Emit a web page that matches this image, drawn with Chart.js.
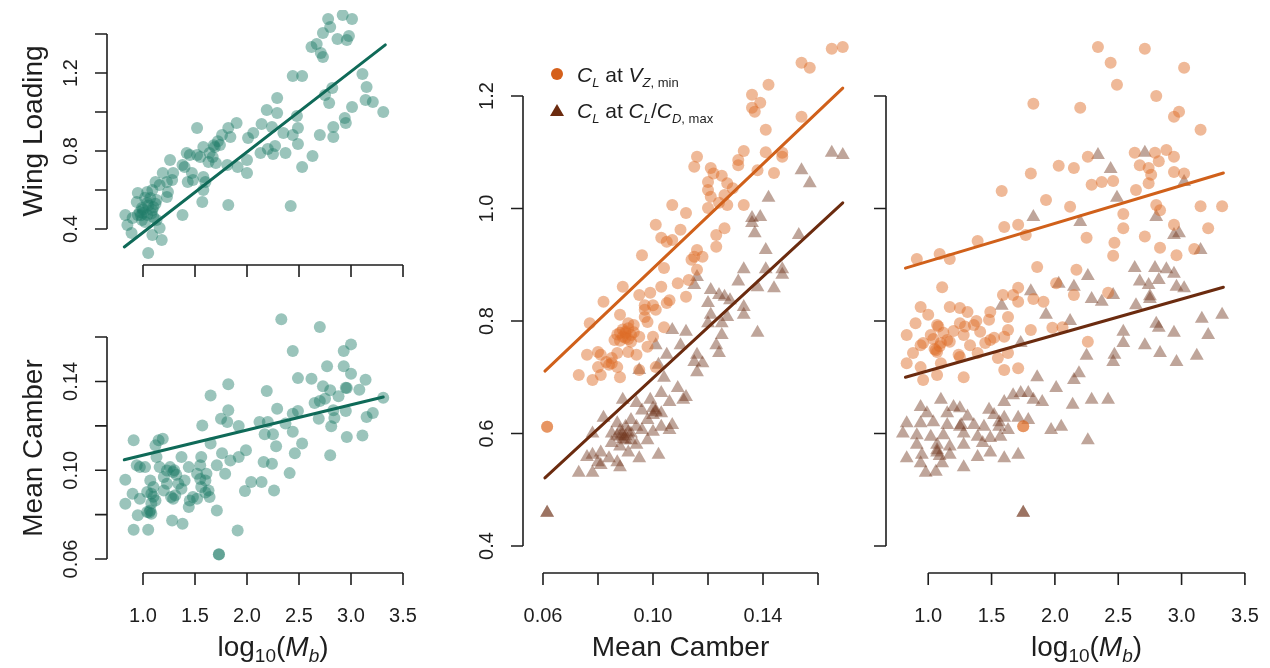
<!DOCTYPE html>
<html lang="en">
  <head>
    <meta charset="UTF-8" />
    <title>Lift coefficient, camber and body mass</title>
    <script src="https://cdn.jsdelivr.net/npm/chart.js"></script>
    <style>
      body { margin: 0; background: #fff; }
      #wrap { position: relative; width: 1270px; height: 668px; }
      #wrap canvas { position: absolute; left: 0; top: 0; }
    </style>
  </head>
  <body>
    <div id="wrap">
      <canvas id="wl" width="1270" height="668"></canvas>
      <canvas id="mc" width="1270" height="668"></canvas>
      <canvas id="clc" width="1270" height="668"></canvas>
      <canvas id="clm" width="1270" height="668"></canvas>
    </div>

    <script>
      // top-left: wing loading vs log10(Mb)
      const massWL = [2.92, 3.01, 2.78, 2.80, 2.73, 2.87, 2.96, 2.98, 2.62, 2.67, 2.71, 2.73, 2.44, 2.53, 3.11, 3.15, 3.14, 3.21, 3.31, 3.01, 2.94, 2.95, 2.83, 2.83, 2.70, 2.75, 2.79, 2.82, 2.63, 2.53, 2.42, 2.29, 2.19, 2.29, 2.14, 2.24, 2.48, 2.49, 2.44, 2.49, 2.35, 2.37, 2.27, 2.20, 2.25, 2.13, 2.06, 2.01, 1.90, 2.00, 2.00, 1.91, 1.82, 1.76, 1.84, 1.74, 1.69, 1.81, 1.82, 1.52, 1.58, 1.64, 1.55, 1.52, 1.67, 1.63, 1.70, 1.42, 1.45, 1.38, 1.40, 1.47, 1.48, 1.43, 1.58, 1.60, 1.58, 1.57, 1.38, 1.26, 1.29, 1.28, 1.19, 1.23, 1.16, 1.24, 1.23, 1.12, 1.09, 1.04, 0.95, 1.07, 1.13, 1.04, 0.94, 0.99, 1.09, 1.04, 0.95, 0.90, 0.99, 1.10, 1.13, 0.83, 0.85, 0.89, 1.09, 1.16, 1.18, 1.05, 1.00, 1.02, 0.97, 1.10, 1.00, 1.05, 0.98, 1.08, 1.12, 1.02, 1.68, 1.72];
      const wingLoading = [1.497, 1.477, 1.477, 1.436, 1.405, 1.374, 1.369, 1.39, 1.333, 1.349, 1.303, 1.282, 1.185, 1.185, 1.195, 1.128, 1.062, 1.051, 1.0, 1.026, 0.969, 0.944, 0.923, 0.872, 0.882, 1.087, 1.046, 1.123, 0.774, 0.718, 0.518, 1.072, 1.01, 0.995, 0.938, 0.923, 0.979, 0.918, 0.882, 0.836, 0.892, 0.79, 0.826, 0.81, 0.785, 0.79, 0.892, 0.867, 0.944, 0.754, 0.687, 0.718, 0.918, 0.882, 0.872, 0.831, 0.82, 0.728, 0.523, 0.918, 0.82, 0.79, 0.769, 0.779, 0.769, 0.744, 0.738, 0.79, 0.779, 0.728, 0.718, 0.687, 0.651, 0.641, 0.667, 0.641, 0.60, 0.538, 0.472, 0.754, 0.687, 0.651, 0.687, 0.641, 0.626, 0.59, 0.564, 0.641, 0.60, 0.59, 0.585, 0.559, 0.549, 0.533, 0.538, 0.508, 0.497, 0.472, 0.472, 0.456, 0.446, 0.462, 0.446, 0.472, 0.42, 0.379, 0.369, 0.405, 0.344, 0.277, 0.482, 0.436, 0.487, 0.513, 0.50, 0.52, 0.47, 0.48, 0.53, 0.56, 0.83, 0.85];
      const fitMassWL = [0.82, 3.33];
      const fitWL = [0.308, 1.344];

      // bottom-left: mean camber vs log10(Mb)
      const massMC = [2.33, 2.70, 2.44, 3.00, 2.93, 2.77, 2.93, 3.00, 2.49, 2.62, 3.14, 2.73, 2.95, 2.80, 3.08, 2.88, 2.75, 2.65, 2.70, 3.31, 2.95, 2.83, 2.29, 2.49, 2.44, 2.69, 2.84, 3.21, 3.15, 2.37, 2.81, 2.19, 2.12, 2.20, 2.44, 2.17, 2.25, 2.96, 3.11, 2.28, 2.53, 2.46, 2.80, 2.16, 2.24, 2.41, 2.04, 2.14, 2.26, 1.98, 1.91, 1.99, 1.92, 1.82, 1.82, 1.75, 1.81, 1.65, 1.57, 1.65, 1.76, 1.84, 1.92, 1.71, 1.79, 1.71, 1.73, 1.56, 1.55, 1.52, 1.61, 1.60, 1.56, 1.63, 1.64, 1.48, 1.52, 1.45, 1.44, 1.44, 1.37, 1.40, 1.34, 1.37, 1.31, 1.29, 1.27, 1.28, 1.38, 1.26, 1.23, 1.29, 1.20, 1.16, 1.15, 1.19, 1.12, 1.13, 1.10, 1.07, 1.04, 1.08, 1.12, 1.07, 1.08, 1.04, 0.95, 0.97, 0.90, 0.83, 0.83, 0.91, 0.94, 0.97, 1.02, 0.91, 1.05, 1.20, 1.23, 1.08, 1.10, 1.06, 1.30, 1.32, 1.60, 1.55, 2.96, 1.73];
      const meanCamber = [0.168, 0.1645, 0.1537, 0.1567, 0.1537, 0.1468, 0.1468, 0.1435, 0.1415, 0.1412, 0.1408, 0.1378, 0.1372, 0.136, 0.1363, 0.1333, 0.1322, 0.1303, 0.1312, 0.1327, 0.1267, 0.127, 0.1277, 0.1267, 0.1255, 0.1232, 0.1235, 0.1258, 0.124, 0.121, 0.1198, 0.1357, 0.1217, 0.1217, 0.1173, 0.1162, 0.1162, 0.115, 0.1157, 0.1108, 0.112, 0.1077, 0.1067, 0.1037, 0.1029, 0.0987, 0.0947, 0.0947, 0.0909, 0.0906, 0.0729, 0.109, 0.1199, 0.127, 0.1387, 0.1232, 0.1217, 0.1337, 0.1202, 0.112, 0.1077, 0.1044, 0.106, 0.1022, 0.0984, 0.0819, 0.0621, 0.106, 0.1022, 0.0984, 0.0984, 0.0954, 0.0924, 0.0909, 0.0879, 0.0879, 0.0872, 0.0864, 0.0834, 0.1014, 0.106, 0.0954, 0.0939, 0.0917, 0.0887, 0.0872, 0.0879, 0.0774, 0.0759, 0.1014, 0.0999, 0.0992, 0.0969, 0.1014, 0.1135, 0.1142, 0.1112, 0.106, 0.0924, 0.0954, 0.0902, 0.0894, 0.0864, 0.0819, 0.0804, 0.0812, 0.0797, 0.0872, 0.0894, 0.0849, 0.0957, 0.1135, 0.1022, 0.1014, 0.1014, 0.0732, 0.0732, 0.0909, 0.0939, 0.085, 0.088, 0.081, 0.100, 0.098, 0.090, 0.096, 0.137, 0.062];
      const fitMassMC = [0.82, 3.31];
      const fitMC = [0.1047, 0.133];

      // middle: CL vs mean camber
      const camberVz = [0.165, 0.169, 0.154, 0.157, 0.142, 0.136, 0.139, 0.136, 0.137, 0.154, 0.141, 0.133, 0.141, 0.147, 0.147, 0.131, 0.116, 0.115, 0.121, 0.122, 0.125, 0.131, 0.138, 0.144, 0.120, 0.127, 0.129, 0.120, 0.121, 0.126, 0.124, 0.127, 0.120, 0.133, 0.107, 0.112, 0.101, 0.110, 0.103, 0.107, 0.105, 0.126, 0.123, 0.123, 0.116, 0.115, 0.118, 0.114, 0.096, 0.104, 0.116, 0.113, 0.089, 0.103, 0.109, 0.095, 0.099, 0.112, 0.082, 0.105, 0.101, 0.097, 0.088, 0.091, 0.093, 0.077, 0.106, 0.097, 0.100, 0.097, 0.098, 0.104, 0.088, 0.086, 0.090, 0.092, 0.095, 0.100, 0.098, 0.094, 0.091, 0.087, 0.085, 0.080, 0.081, 0.076, 0.083, 0.084, 0.080, 0.087, 0.095, 0.081, 0.073, 0.078, 0.088, 0.101, 0.0615, 0.085, 0.089, 0.090, 0.091, 0.088, 0.092, 0.089, 0.090, 0.087, 0.091, 0.093, 0.0615];
      const clVz = [1.284, 1.287, 1.259, 1.25, 1.22, 1.202, 1.188, 1.179, 1.172, 1.163, 1.14, 1.102, 1.10, 1.099, 1.092, 1.086, 1.092, 1.074, 1.072, 1.062, 1.058, 1.077, 1.068, 1.063, 1.047, 1.045, 1.036, 1.033, 1.021, 1.024, 1.01, 1.006, 1.001, 1.006, 1.006, 0.992, 0.971, 0.962, 0.948, 0.944, 0.941, 0.965, 0.953, 0.932, 0.926, 0.914, 0.914, 0.909, 0.917, 0.894, 0.891, 0.873, 0.861, 0.861, 0.867, 0.846, 0.85, 0.843, 0.834, 0.832, 0.82, 0.82, 0.811, 0.796, 0.793, 0.796, 0.837, 0.828, 0.828, 0.807, 0.798, 0.789, 0.779, 0.766, 0.77, 0.763, 0.772, 0.772, 0.754, 0.74, 0.745, 0.743, 0.734, 0.745, 0.74, 0.74, 0.727, 0.722, 0.718, 0.718, 0.713, 0.704, 0.704, 0.695, 0.70, 0.718, 0.612, 0.725, 0.785, 0.778, 0.787, 0.765, 0.775, 0.772, 0.781, 0.776, 0.768, 0.78, 0.612];
      const camberLD = [0.165, 0.169, 0.154, 0.157, 0.142, 0.136, 0.139, 0.136, 0.137, 0.153, 0.141, 0.133, 0.141, 0.147, 0.147, 0.131, 0.116, 0.115, 0.138, 0.144, 0.121, 0.124, 0.126, 0.128, 0.120, 0.133, 0.121, 0.127, 0.133, 0.120, 0.125, 0.138, 0.112, 0.107, 0.101, 0.125, 0.123, 0.110, 0.116, 0.124, 0.105, 0.115, 0.118, 0.116, 0.102, 0.095, 0.104, 0.109, 0.103, 0.112, 0.111, 0.106, 0.089, 0.094, 0.099, 0.096, 0.101, 0.103, 0.100, 0.082, 0.092, 0.098, 0.107, 0.103, 0.087, 0.090, 0.094, 0.096, 0.100, 0.106, 0.078, 0.085, 0.088, 0.090, 0.092, 0.085, 0.094, 0.098, 0.088, 0.081, 0.078, 0.076, 0.084, 0.091, 0.095, 0.102, 0.080, 0.081, 0.087, 0.073, 0.078, 0.088, 0.0615, 0.0615, 0.089, 0.091, 0.088, 0.090, 0.089, 0.087, 0.092, 0.100, 0.101];
      const clLD = [1.099, 1.095, 1.068, 1.045, 1.019, 0.983, 0.985, 0.974, 0.956, 0.953, 0.926, 0.892, 0.892, 0.892, 0.882, 0.87, 0.878, 0.864, 0.86, 0.858, 0.855, 0.846, 0.843, 0.837, 0.832, 0.825, 0.811, 0.807, 0.811, 0.796, 0.796, 0.779, 0.781, 0.784, 0.757, 0.775, 0.757, 0.757, 0.74, 0.743, 0.74, 0.727, 0.725, 0.709, 0.722, 0.713, 0.699, 0.681, 0.672, 0.665, 0.66, 0.656, 0.66, 0.654, 0.66, 0.641, 0.641, 0.636, 0.633, 0.628, 0.624, 0.624, 0.615, 0.612, 0.618, 0.612, 0.612, 0.606, 0.603, 0.606, 0.60, 0.60, 0.594, 0.588, 0.588, 0.583, 0.58, 0.588, 0.577, 0.566, 0.562, 0.558, 0.556, 0.566, 0.556, 0.562, 0.549, 0.544, 0.549, 0.53, 0.53, 0.54, 0.459, 0.459, 0.598, 0.602, 0.605, 0.595, 0.59, 0.596, 0.60, 0.645, 0.638];
      const fitCamber = [0.0607, 0.169];
      const fitClVzCamber = [0.711, 1.214];
      const fitClLDCamber = [0.521, 1.01];

      // right: CL vs log10(Mb)
      const massVz = [2.34, 2.71, 2.44, 3.02, 2.49, 1.83, 2.20, 2.80, 2.98, 2.94, 3.15, 2.26, 2.63, 2.79, 2.88, 2.94, 2.82, 2.03, 2.15, 2.67, 2.74, 2.76, 2.94, 3.02, 1.81, 2.37, 2.46, 2.29, 2.74, 1.58, 1.93, 2.12, 2.64, 2.80, 2.83, 3.15, 3.32, 2.54, 1.60, 1.71, 1.77, 2.54, 2.94, 3.21, 2.25, 2.71, 1.39, 2.47, 2.83, 3.10, 0.91, 1.09, 1.17, 2.46, 2.96, 1.86, 2.17, 1.11, 1.71, 1.67, 1.59, 1.83, 1.91, 2.15, 2.42, 1.71, 2.01, 0.94, 1.17, 1.25, 1.31, 1.00, 1.49, 1.48, 1.63, 0.90, 1.07, 1.25, 1.36, 1.41, 1.63, 1.81, 1.98, 2.06, 0.83, 1.02, 1.12, 1.28, 1.52, 1.60, 0.94, 1.10, 1.17, 1.33, 1.45, 2.26, 0.88, 1.07, 1.24, 1.39, 1.63, 0.96, 1.15, 1.49, 0.83, 0.94, 1.10, 1.25, 1.55, 1.60, 1.71, 0.96, 1.07, 1.28, 1.75, 1.08, 1.05, 1.29, 1.06, 1.09, 1.04, 1.20, 1.38, 1.75];
      const clVzMass = [1.287, 1.284, 1.259, 1.25, 1.22, 1.186, 1.179, 1.20, 1.172, 1.163, 1.14, 1.092, 1.099, 1.099, 1.104, 1.092, 1.084, 1.076, 1.072, 1.077, 1.072, 1.06, 1.065, 1.062, 1.062, 1.047, 1.049, 1.042, 1.045, 1.031, 1.015, 1.003, 1.033, 1.006, 0.997, 1.004, 1.004, 0.99, 0.967, 0.971, 0.953, 0.965, 0.971, 0.965, 0.948, 0.95, 0.942, 0.939, 0.93, 0.928, 0.91, 0.919, 0.91, 0.916, 0.917, 0.896, 0.891, 0.86, 0.859, 0.846, 0.846, 0.839, 0.834, 0.846, 0.85, 0.834, 0.867, 0.825, 0.825, 0.823, 0.816, 0.811, 0.816, 0.802, 0.807, 0.796, 0.793, 0.796, 0.793, 0.781, 0.784, 0.784, 0.788, 0.789, 0.775, 0.775, 0.779, 0.775, 0.77, 0.772, 0.757, 0.761, 0.763, 0.757, 0.761, 0.763, 0.743, 0.745, 0.74, 0.743, 0.743, 0.761, 0.766, 0.766, 0.725, 0.718, 0.725, 0.736, 0.734, 0.713, 0.716, 0.695, 0.704, 0.70, 0.613, 0.79, 0.75, 0.79, 0.748, 0.755, 0.768, 0.782, 0.80, 0.613];
      const massLD = [2.34, 2.71, 2.44, 3.02, 2.49, 1.83, 2.20, 2.80, 2.94, 2.98, 3.15, 2.26, 2.63, 2.79, 2.88, 2.94, 2.67, 2.82, 2.74, 2.96, 3.02, 1.81, 2.03, 2.15, 2.46, 2.29, 2.37, 2.75, 2.75, 1.58, 1.93, 2.12, 2.64, 2.80, 2.82, 3.16, 3.32, 2.54, 1.73, 2.54, 2.94, 3.21, 2.71, 2.83, 2.47, 3.12, 2.25, 2.96, 2.46, 2.19, 2.15, 1.86, 2.01, 1.67, 1.73, 1.79, 1.83, 1.90, 2.14, 2.29, 2.42, 1.60, 1.48, 0.94, 1.10, 1.20, 1.25, 0.99, 1.15, 1.31, 1.52, 1.60, 1.71, 1.79, 0.83, 0.94, 1.04, 1.15, 1.25, 1.36, 1.44, 1.56, 1.63, 1.97, 2.05, 0.80, 0.91, 1.02, 1.12, 1.28, 1.39, 1.49, 1.57, 2.26, 0.91, 1.07, 1.17, 1.28, 1.43, 0.83, 0.95, 1.07, 1.17, 1.39, 1.49, 1.60, 1.71, 0.94, 1.11, 1.28, 0.98, 1.06, 1.75, 1.07, 1.09, 1.26, 1.56, 1.75];
      const clLDMass = [1.095, 1.099, 1.07, 1.047, 1.019, 0.985, 0.976, 0.985, 0.953, 0.956, 0.926, 0.88, 0.894, 0.894, 0.892, 0.884, 0.87, 0.873, 0.864, 0.861, 0.858, 0.853, 0.866, 0.861, 0.846, 0.839, 0.834, 0.844, 0.839, 0.827, 0.811, 0.80, 0.828, 0.795, 0.788, 0.804, 0.811, 0.781, 0.761, 0.761, 0.779, 0.775, 0.757, 0.743, 0.74, 0.738, 0.738, 0.727, 0.727, 0.707, 0.695, 0.70, 0.681, 0.668, 0.672, 0.672, 0.66, 0.656, 0.651, 0.66, 0.66, 0.656, 0.642, 0.647, 0.66, 0.647, 0.645, 0.636, 0.636, 0.63, 0.633, 0.628, 0.628, 0.624, 0.618, 0.618, 0.62, 0.615, 0.612, 0.615, 0.612, 0.612, 0.606, 0.606, 0.612, 0.60, 0.597, 0.594, 0.597, 0.60, 0.594, 0.592, 0.594, 0.588, 0.58, 0.58, 0.577, 0.58, 0.583, 0.556, 0.562, 0.566, 0.562, 0.558, 0.566, 0.556, 0.562, 0.547, 0.547, 0.54, 0.53, 0.532, 0.459, 0.57, 0.56, 0.615, 0.62, 0.459];
      const fitMass = [0.82, 3.33];
      const fitClVzMass = [0.894, 1.063];
      const fitClLDMass = [0.70, 0.86];

      // axis ticks and the labels R printed
      const massTicks = [1.0, 1.5, 2.0, 2.5, 3.0, 3.5];
      const massLabels = ["1.0", "1.5", "2.0", "2.5", "3.0", "3.5"];
      const wlTicks = [0.4, 0.6, 0.8, 1.0, 1.2, 1.4];
      const wlLabels = ["0.4", "", "0.8", "", "1.2", ""];
      const camberTicks = [0.06, 0.08, 0.1, 0.12, 0.14, 0.16];
      const camberLabels = ["0.06", "", "0.10", "", "0.14", ""];
      const clTicks = [0.4, 0.6, 0.8, 1.0, 1.2];
      const clLabels = ["0.4", "0.6", "0.8", "1.0", "1.2"];

      const FONT = "'Liberation Sans', Arial, Helvetica, sans-serif";
      const TEAL_PT = "rgba(30, 125, 105, 0.45)";
      const TEAL_LINE = "#0f6a58";
      const ORANGE_PT = "rgba(222, 108, 40, 0.48)";
      const ORANGE_LINE = "#d0601a";
      const BROWN_PT = "rgba(112, 55, 32, 0.45)";
      const BROWN_LINE = "#6b2b0f";

      const zip = (xs, ys) => xs.map((x, i) => ({ x: x, y: ys[i] }));

      // draw a run of text pieces (italic / subscript) on one baseline
      function richText(ctx, parts, x, y, align) {
        const fontOf = (p) => (p.it ? "italic " : "") + p.f + "px " + FONT;
        let w = 0;
        parts.forEach((p) => {
          ctx.font = fontOf(p);
          w += ctx.measureText(p.t).width;
        });
        let cx = align === "center" ? x - w / 2 : x;
        ctx.textAlign = "left";
        ctx.textBaseline = "alphabetic";
        parts.forEach((p) => {
          ctx.font = fontOf(p);
          ctx.fillText(p.t, cx, y + (p.dy || 0));
          cx += ctx.measureText(p.t).width;
        });
      }

      const logMb = [
        { t: "log", f: 28 },
        { t: "10", f: 19, dy: 6 },
        { t: "(", f: 28 },
        { t: "M", f: 28, it: true },
        { t: "b", f: 19, it: true, dy: 6 },
        { t: ")", f: 28 },
      ];

      // R style axes: line from first to last tick, ticks pointing out
      function rAxes(cfg) {
        return {
          id: "rAxes",
          afterDraw(chart) {
            const ctx = chart.ctx;
            const xs = chart.scales.x;
            const ys = chart.scales.y;
            const left = chart.chartArea.left;
            const bottom = chart.chartArea.bottom;
            ctx.save();
            ctx.strokeStyle = "#1e1e1e";
            ctx.fillStyle = "#1e1e1e";
            ctx.lineWidth = 1.6;

            const xp = cfg.xTicks.map((v) => xs.getPixelForValue(v));
            ctx.beginPath();
            ctx.moveTo(xp[0], bottom);
            ctx.lineTo(xp[xp.length - 1], bottom);
            xp.forEach((p) => {
              ctx.moveTo(p, bottom);
              ctx.lineTo(p, bottom + 12);
            });
            const yp = cfg.yTicks.map((v) => ys.getPixelForValue(v));
            ctx.moveTo(left, yp[0]);
            ctx.lineTo(left, yp[yp.length - 1]);
            yp.forEach((p) => {
              ctx.moveTo(left, p);
              ctx.lineTo(left - 12, p);
            });
            ctx.stroke();

            ctx.font = "20px " + FONT;
            ctx.textAlign = "center";
            ctx.textBaseline = "alphabetic";
            if (cfg.xLabels) {
              cfg.xLabels.forEach((t, i) => {
                if (t) ctx.fillText(t, xp[i], bottom + 49);
              });
            }
            if (cfg.yLabels) {
              cfg.yLabels.forEach((t, i) => {
                if (!t) return;
                ctx.save();
                ctx.translate(left - 30, yp[i]);
                ctx.rotate(-Math.PI / 2);
                ctx.fillText(t, 0, 0);
                ctx.restore();
              });
            }
            if (cfg.xTitle) {
              richText(ctx, cfg.xTitle, (xp[0] + xp[xp.length - 1]) / 2, bottom + 83, "center");
            }
            if (cfg.yTitle) {
              ctx.save();
              ctx.translate(42, cfg.yTitleAt);
              ctx.rotate(-Math.PI / 2);
              richText(ctx, cfg.yTitle, 0, 0, "center");
              ctx.restore();
            }
            if (cfg.legend) cfg.legend(ctx);
            ctx.restore();
          },
        };
      }

      function drawLegend(ctx) {
        ctx.fillStyle = "#d5601b";
        ctx.beginPath();
        ctx.arc(557, 74, 6, 0, Math.PI * 2);
        ctx.fill();
        ctx.fillStyle = "#6b2b0f";
        ctx.beginPath();
        ctx.moveTo(557, 104);
        ctx.lineTo(564, 116);
        ctx.lineTo(550, 116);
        ctx.closePath();
        ctx.fill();
        ctx.fillStyle = "#1e1e1e";
        richText(ctx, [
          { t: "C", f: 21, it: true },
          { t: "L", f: 13, it: true, dy: 5 },
          { t: " at ", f: 21 },
          { t: "V", f: 21, it: true },
          { t: "Z", f: 13, it: true, dy: 5 },
          { t: ", min", f: 13, dy: 5 },
        ], 577, 82);
        richText(ctx, [
          { t: "C", f: 21, it: true },
          { t: "L", f: 13, it: true, dy: 5 },
          { t: " at ", f: 21 },
          { t: "C", f: 21, it: true },
          { t: "L", f: 13, it: true, dy: 5 },
          { t: "/", f: 21 },
          { t: "C", f: 21, it: true },
          { t: "D", f: 13, it: true, dy: 5 },
          { t: ", max", f: 13, dy: 5 },
        ], 577, 118);
      }

      function fitLine(xs, ys, color) {
        return {
          type: "line",
          data: zip(xs, ys),
          borderColor: color,
          borderWidth: 3,
          borderCapStyle: "round",
          pointRadius: 0,
          fill: false,
        };
      }

      function pointSet(xs, ys, color, style) {
        return {
          data: zip(xs, ys),
          backgroundColor: color,
          borderWidth: 0,
          pointStyle: style,
          pointRadius: style === "triangle" ? 8 : 6,
        };
      }

      // box = plot region in page pixels
      function makePanel(id, box, xr, yr, datasets, cfg) {
        new Chart(document.getElementById(id), {
          type: "scatter",
          data: { datasets: datasets },
          options: {
            responsive: false,
            animation: false,
            events: [],
            layout: {
              padding: { left: box[0], top: box[1], right: 1270 - box[2], bottom: 668 - box[3] },
            },
            plugins: { legend: { display: false }, tooltip: { enabled: false } },
            scales: {
              x: { type: "linear", min: xr[0], max: xr[1], display: false },
              y: { type: "linear", min: yr[0], max: yr[1], display: false },
            },
          },
          plugins: [rAxes(cfg)],
        });
      }

      document.addEventListener("DOMContentLoaded", () => {
        makePanel("wl", [107, 10, 410, 265], [0.6538, 3.5673], [0.2154, 1.5231], [
          fitLine(fitMassWL, fitWL, TEAL_LINE),
          pointSet(massWL, wingLoading, TEAL_PT, "circle"),
        ], {
          xTicks: massTicks, yTicks: wlTicks, yLabels: wlLabels,
          yTitle: [{ t: "Wing Loading", f: 28 }], yTitleAt: 131,
        });

        makePanel("mc", [107, 290, 410, 573], [0.6538, 3.5673], [0.0537, 0.1812], [
          fitLine(fitMassMC, fitMC, TEAL_LINE),
          pointSet(massMC, meanCamber, TEAL_PT, "circle"),
        ], {
          xTicks: massTicks, xLabels: massLabels, yTicks: camberTicks, yLabels: camberLabels,
          xTitle: logMb, yTitle: [{ t: "Mean Camber", f: 28 }], yTitleAt: 448,
        });

        makePanel("clc", [523, 30, 855, 573], [0.05273, 0.17345], [0.352, 1.3173], [
          fitLine(fitCamber, fitClVzCamber, ORANGE_LINE),
          fitLine(fitCamber, fitClLDCamber, BROWN_LINE),
          pointSet(camberVz, clVz, ORANGE_PT, "circle"),
          pointSet(camberLD, clLD, BROWN_PT, "triangle"),
        ], {
          xTicks: camberTicks, xLabels: camberLabels, yTicks: clTicks, yLabels: clLabels,
          xTitle: [{ t: "Mean Camber", f: 28 }], legend: drawLegend,
        });

        makePanel("clm", [886, 30, 1262, 573], [0.6667, 3.6349], [0.352, 1.3173], [
          fitLine(fitMass, fitClVzMass, ORANGE_LINE),
          fitLine(fitMass, fitClLDMass, BROWN_LINE),
          pointSet(massVz, clVzMass, ORANGE_PT, "circle"),
          pointSet(massLD, clLDMass, BROWN_PT, "triangle"),
        ], {
          xTicks: massTicks, xLabels: massLabels, yTicks: clTicks,
          xTitle: logMb,
        });
      });
    </script>
  </body>
</html>
